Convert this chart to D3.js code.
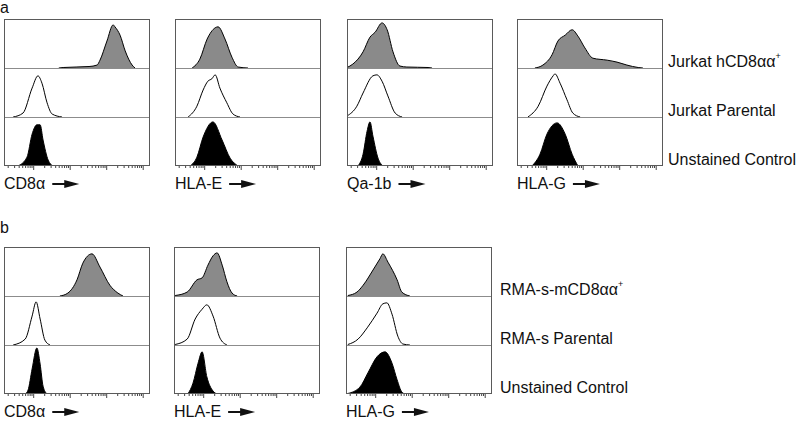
<!DOCTYPE html>
<html><head><meta charset="utf-8">
<script src="https://cdn.jsdelivr.net/npm/d3@7"></script>
<style>body{margin:0;background:#fff} text{font-family:"Liberation Sans",Arial,sans-serif;fill:#111}</style>
</head><body><svg id="c" width="800" height="422"></svg>
<script>
// ---------- data ----------
const panelAMarkers = ["CD8α", "HLA-E", "Qa-1b", "HLA-G"];
const panelBMarkers = ["CD8α", "HLA-E", "HLA-G"];
const panelARows = [["Jurkat hCD8αα", "+"], ["Jurkat Parental", ""], ["Unstained Control", ""]];
const panelBRows = [["RMA-s-mCD8αα", "+"], ["RMA-s Parental", ""], ["Unstained Control", ""]];
const logDomain = [0.2, 4.2];          // log10 fluorescence range shown
const decadeTicks = [10, 100, 1000, 10000];

// histograms: [log10 fluorescence, % of row height]
const aCD8Pos  = [[1.70,0],[1.82,1],[2.53,3],[2.75,6],[2.83,16],[3.02,55],[3.19,88],[3.24,84],[3.38,67],[3.52,35],[3.71,6],[3.79,0]];
const aCD8Par  = [[0.45,0],[0.72,8],[0.97,59],[1.13,84],[1.24,69],[1.38,29],[1.52,6],[1.79,0]];
const aCD8Uns  = [[0.58,0],[0.83,18],[0.97,65],[1.10,84],[1.19,84],[1.27,53],[1.41,12],[1.54,0]];
const aHLAEPos = [[0.67,0],[0.88,18],[1.08,59],[1.30,82],[1.38,84],[1.57,59],[1.76,22],[1.93,2],[2.20,0]];
const aHLAEPar = [[0.56,0],[0.80,22],[0.97,55],[1.10,73],[1.21,78],[1.30,86],[1.43,59],[1.62,29],[1.79,6],[1.98,0]];
const aHLAEUns = [[0.61,0],[0.80,18],[0.97,59],[1.24,90],[1.49,53],[1.71,16],[1.93,0]];
const aQa1bPos = [[0.20,1],[0.36,8],[0.64,33],[0.83,63],[0.97,73],[1.16,92],[1.30,78],[1.46,33],[1.65,4],[1.84,2],[2.42,1],[2.53,0]];
const aQa1bPar = [[0.20,2],[0.47,22],[0.64,49],[0.91,84],[1.02,86],[1.16,73],[1.32,43],[1.52,8],[1.71,0]];
const aQa1bUns = [[0.50,0],[0.64,24],[0.75,71],[0.83,90],[0.91,61],[1.05,16],[1.19,0]];
const aHLAGPos = [[0.69,0],[0.91,6],[1.16,27],[1.32,55],[1.52,67],[1.71,78],[1.87,65],[2.06,41],[2.28,20],[2.67,16],[2.94,12],[3.21,6],[3.52,1],[3.65,0]];
const aHLAGPar = [[0.50,0],[0.78,22],[1.02,63],[1.19,84],[1.24,88],[1.38,69],[1.57,35],[1.73,8],[1.93,0]];
const aHLAGUns = [[0.61,0],[0.83,24],[1.02,65],[1.30,88],[1.52,65],[1.71,24],[1.87,0]];

const bCD8Pos  = [[1.73,0],[1.95,6],[2.20,33],[2.36,67],[2.61,86],[2.83,59],[3.10,22],[3.32,6],[3.46,0]];
const bCD8Par  = [[0.45,0],[0.78,12],[0.97,59],[1.08,88],[1.19,53],[1.32,10],[1.46,0]];
const bCD8Uns  = [[0.78,0],[0.86,8],[0.97,51],[1.10,94],[1.19,61],[1.27,16],[1.38,0]];
const bHLAEPos = [[0.23,1],[0.56,8],[0.83,33],[0.97,37],[1.13,63],[1.27,82],[1.38,88],[1.52,63],[1.65,29],[1.79,6],[1.93,0]];
const bHLAEPar = [[0.23,1],[0.56,12],[0.78,53],[0.97,73],[1.10,82],[1.27,59],[1.46,14],[1.65,0]];
const bHLAEUns = [[0.58,0],[0.72,22],[0.86,63],[0.97,86],[1.10,35],[1.27,6],[1.38,0]];
const bHLAGPos = [[0.25,1],[0.50,8],[0.67,22],[0.94,53],[1.13,76],[1.21,86],[1.35,69],[1.60,33],[1.73,8],[1.95,0]];
const bHLAGPar = [[0.25,1],[0.53,12],[0.78,35],[1.05,65],[1.21,84],[1.32,86],[1.46,63],[1.62,18],[1.76,2],[1.95,0]];
const bHLAGUns = [[0.25,1],[0.58,14],[0.80,43],[1.05,76],[1.27,86],[1.46,63],[1.60,29],[1.73,4],[1.82,0]];

const panelAHists = [[aCD8Pos,aCD8Par,aCD8Uns],[aHLAEPos,aHLAEPar,aHLAEUns],[aQa1bPos,aQa1bPar,aQa1bUns],[aHLAGPos,aHLAGPar,aHLAGUns]];
const panelBHists = [[bCD8Pos,bCD8Par,bCD8Uns],[bHLAEPos,bHLAEPar,bHLAEUns],[bHLAGPos,bHLAGPar,bHLAGUns]];

// ---------- drawing ----------
const svg = d3.select("#c");
const rowFills = ["#8a8a8a", "#ffffff", "#000000"];
const boxW = 146, rowH = 49;

function drawPanel(letter, letterY, lefts, top, markers, hists, rows, labelX) {
  svg.append("text").attr("x", 0).attr("y", letterY).attr("font-size", 16).text(letter);
  const bottom = top + rowH * 3;
  lefts.forEach((left, i) => {
    const g = svg.append("g");
    const x = d3.scaleLinear().domain(logDomain).range([left, left + boxW]);
    const xl = d3.scaleLog().domain(logDomain.map(v => Math.pow(10, v))).range([left, left + boxW]);
    const clipId = "clip" + letter + i;
    g.append("clipPath").attr("id", clipId).append("rect")
      .attr("x", left).attr("y", top).attr("width", boxW).attr("height", rowH * 3);
    hists[i].forEach((h, r) => {
      const base = top + rowH * (r + 1);
      const y = d3.scaleLinear().domain([0, 100]).range([base, base - rowH]);
      const area = d3.area().x(d => x(d[0])).y0(base).y1(d => y(d[1])).curve(d3.curveMonotoneX);
      const line = d3.line().x(d => x(d[0])).y(d => y(d[1])).curve(d3.curveMonotoneX);
      g.append("path").attr("clip-path", `url(#${clipId})`).attr("d", area(h)).attr("fill", rowFills[r]);
      g.append("path").attr("clip-path", `url(#${clipId})`).attr("d", line(h))
        .attr("fill", "none").attr("stroke", "#000").attr("stroke-width", 1);
      if (r < 2) {
        g.append("line").attr("x1", left).attr("x2", left + boxW).attr("y1", base + 0.5).attr("y2", base + 0.5)
          .attr("stroke", "#8c8c8c").attr("stroke-width", 1);
      }
    });
    g.append("rect").attr("x", left + 0.5).attr("y", top + 0.5).attr("width", boxW - 1).attr("height", rowH * 3 - 1)
      .attr("fill", "none").attr("stroke", "#5a5a5a").attr("stroke-width", 1);
    // log axis ticks
    const ax = g.append("g").attr("transform", `translate(0,${bottom})`)
      .call(d3.axisBottom(xl).tickSize(2).tickFormat(""));
    ax.select(".domain").remove();
    ax.selectAll(".tick line").attr("stroke", "#444")
      .attr("y2", d => decadeTicks.includes(d) ? 4 : 2);
    // marker label + arrow
    const ty = bottom + 23;
    const t = svg.append("text").attr("x", left).attr("y", ty).attr("font-size", 16).text(markers[i]);
    const tw = t.node().getComputedTextLength();
    const ax0 = left + tw + 7, ax1 = ax0 + 27, ay = ty - 5;
    svg.append("line").attr("x1", ax0).attr("x2", ax1 - 10).attr("y1", ay).attr("y2", ay)
      .attr("stroke", "#111").attr("stroke-width", 2);
    svg.append("path").attr("d", `M${ax1 - 15},${ay - 4}L${ax1},${ay}L${ax1 - 15},${ay + 4}Z`).attr("fill", "#111");
  });
  rows.forEach((lab, r) => {
    const base = top + rowH * (r + 1) - 1;
    const t = svg.append("text").attr("x", labelX).attr("y", base).attr("font-size", 16);
    t.append("tspan").text(lab[0]);
    if (lab[1]) t.append("tspan").attr("font-size", 9).attr("dy", -8).text(lab[1]);
  });
}

drawPanel("a", 13, [4, 175, 347, 517], 19, panelAMarkers, panelAHists, panelARows, 668);
drawPanel("b", 233, [4, 174, 346], 247, panelBMarkers, panelBHists, panelBRows, 500);
</script></body></html>
